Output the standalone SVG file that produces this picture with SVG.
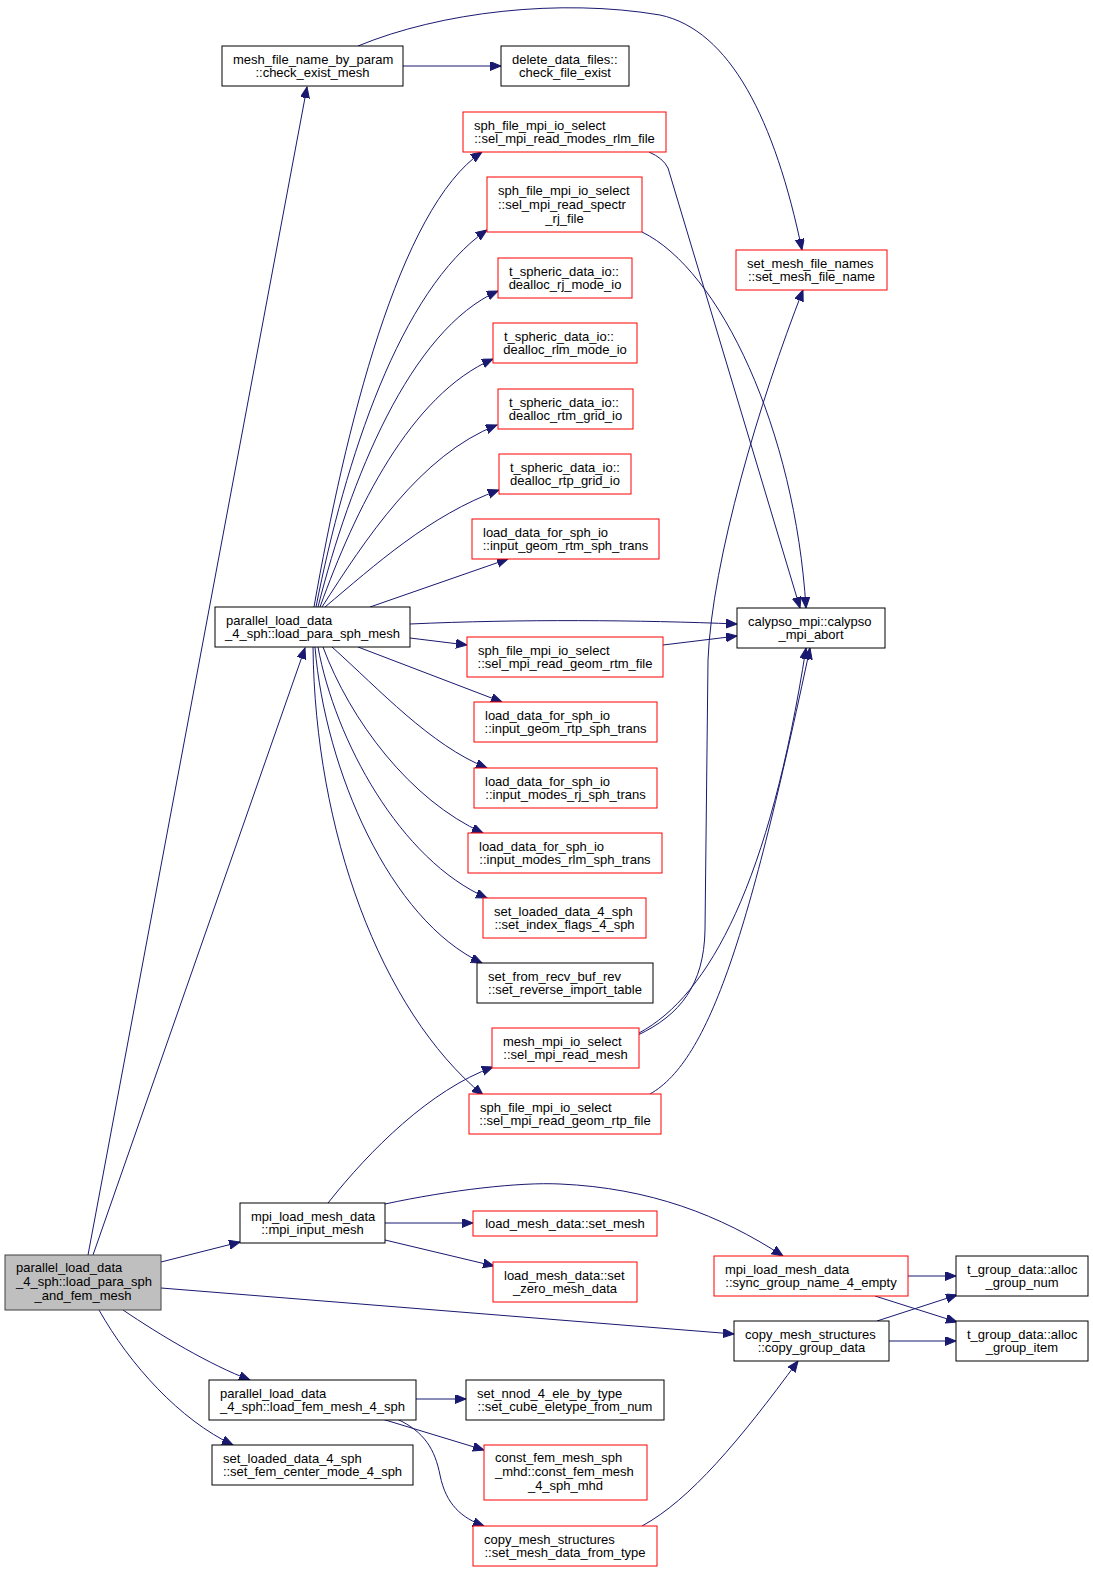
<svg xmlns="http://www.w3.org/2000/svg" width="1093" height="1572" viewBox="0 0 1093 1572">
<defs>
<marker id="a" markerWidth="12" markerHeight="10" refX="11" refY="4.5" orient="auto" markerUnits="userSpaceOnUse">
<path d="M0,0 L11,4.5 L0,9 z" fill="#191970" stroke="#191970" stroke-width="1"/>
</marker>
</defs>
<style>
.n rect{fill:#fff;stroke:#000;stroke-width:1}
.n.r rect{stroke:#ff0000}
.n.root rect{fill:#bfbfbf;stroke:#404040}
text{font-family:"Liberation Sans",Arial,Helvetica,sans-serif;font-size:13px;fill:#000}
.c{text-anchor:middle}
#edges path{fill:none;stroke:#191970;stroke-width:1;marker-end:url(#a)}
</style>
<rect x="0" y="0" width="1093" height="1572" fill="#fff"/>
<g id="edges">
<path d="M88,1255 L307,87"/>
<path d="M93,1255 L305,648"/>
<path d="M161,1262 L240,1242"/>
<path d="M161,1288 L734,1334"/>
<path d="M123,1310 C160,1335 210,1365 250,1380"/>
<path d="M99,1310 C130,1365 180,1420 233,1445"/>
<path d="M403,66 L501,66"/>
<path d="M358,46 C440,12 560,-2 660,15 C730,30 775,120 802,250"/>
<path d="M314,607 C345,430 399,208 482,152"/>
<path d="M316,607 C345,460 400,290 487,230"/>
<path d="M318,607 C350,480 410,330 498,291"/>
<path d="M320,607 C355,510 410,395 493,359"/>
<path d="M322,607 C365,540 420,455 497,425"/>
<path d="M325,607 C375,565 430,515 499,490"/>
<path d="M370,607 L508,559"/>
<path d="M410,624 C520,619 640,620 737,624"/>
<path d="M410,638 L467,645"/>
<path d="M358,647 L502,702"/>
<path d="M332,647 C380,690 430,745 487,768"/>
<path d="M323,647 C350,720 410,800 483,833"/>
<path d="M318,647 C335,740 400,860 487,898"/>
<path d="M315,647 C325,770 390,920 482,963"/>
<path d="M313,647 C315,830 380,1010 483,1095"/>
<path d="M663,645 L737,636"/>
<path d="M649,152 Q663,158 668,168 L800,608"/>
<path d="M642,232 C720,270 795,430 806,608"/>
<path d="M638,1035 C680,1015 704,985 705,930 L708,660 C712,560 760,400 803,290"/>
<path d="M639,1033 C710,995 770,880 806,648"/>
<path d="M650,1094 C710,1060 750,930 810,648"/>
<path d="M328,1203 C370,1150 430,1090 493,1067"/>
<path d="M385,1223 L473,1223"/>
<path d="M385,1240 L494,1266"/>
<path d="M385,1204 C450,1190 520,1182 560,1184 C650,1188 720,1215 783,1256"/>
<path d="M908,1276 L956,1276"/>
<path d="M875,1296 L957,1322"/>
<path d="M877,1321 L957,1295"/>
<path d="M889,1341 L956,1341"/>
<path d="M416,1399 L466,1399"/>
<path d="M382,1419 L484,1450"/>
<path d="M397,1419 C425,1432 435,1450 440,1475 C446,1505 462,1518 484,1526"/>
<path d="M642,1526 C690,1500 740,1440 798,1361"/>
</g>
<g id="n_check_exist_mesh" class="n"><rect x="222" y="46" width="181" height="40"/><text x="233" y="63.5">mesh_file_name_by_param</text><text class="c" x="312.5" y="77">::check_exist_mesh</text></g>
<g id="n_check_file_exist" class="n"><rect x="501" y="46" width="128" height="40"/><text x="512" y="63.5">delete_data_files::</text><text class="c" x="565" y="77">check_file_exist</text></g>
<g id="n_modes_rlm_file" class="n r"><rect x="463" y="112" width="203" height="40"/><text x="474" y="129.5">sph_file_mpi_io_select</text><text class="c" x="564.5" y="143">::sel_mpi_read_modes_rlm_file</text></g>
<g id="n_spectr_rj_file" class="n r"><rect x="487" y="177" width="155" height="55"/><text x="498" y="194.5">sph_file_mpi_io_select</text><text x="498" y="208.5">::sel_mpi_read_spectr</text><text class="c" x="564.5" y="222.5">_rj_file</text></g>
<g id="n_dealloc_rj_mode_io" class="n r"><rect x="498" y="258" width="134" height="40"/><text x="509" y="275.5">t_spheric_data_io::</text><text class="c" x="565" y="289">dealloc_rj_mode_io</text></g>
<g id="n_dealloc_rlm_mode_io" class="n r"><rect x="493" y="323" width="144" height="40"/><text x="504" y="340.5">t_spheric_data_io::</text><text class="c" x="565" y="354">dealloc_rlm_mode_io</text></g>
<g id="n_dealloc_rtm_grid_io" class="n r"><rect x="498" y="389" width="135" height="40"/><text x="509" y="406.5">t_spheric_data_io::</text><text class="c" x="565.5" y="420">dealloc_rtm_grid_io</text></g>
<g id="n_dealloc_rtp_grid_io" class="n r"><rect x="499" y="454" width="132" height="40"/><text x="510" y="471.5">t_spheric_data_io::</text><text class="c" x="565" y="485">dealloc_rtp_grid_io</text></g>
<g id="n_input_geom_rtm" class="n r"><rect x="472" y="519" width="187" height="40"/><text x="483" y="536.5">load_data_for_sph_io</text><text class="c" x="565.5" y="550">::input_geom_rtm_sph_trans</text></g>
<g id="n_set_mesh_file_name" class="n r"><rect x="736" y="250" width="151" height="40"/><text x="747" y="267.5">set_mesh_file_names</text><text class="c" x="811.5" y="281">::set_mesh_file_name</text></g>
<g id="n_calypso_mpi_abort" class="n"><rect x="737" y="608" width="148" height="40"/><text x="748" y="625.5">calypso_mpi::calypso</text><text class="c" x="811" y="639">_mpi_abort</text></g>
<g id="n_load_para_sph_mesh" class="n"><rect x="215" y="607" width="195" height="40"/><text x="226" y="624.5">parallel_load_data</text><text class="c" x="312.5" y="638">_4_sph::load_para_sph_mesh</text></g>
<g id="n_geom_rtm_file" class="n r"><rect x="467" y="637" width="196" height="40"/><text x="478" y="654.5">sph_file_mpi_io_select</text><text class="c" x="565" y="668">::sel_mpi_read_geom_rtm_file</text></g>
<g id="n_input_geom_rtp" class="n r"><rect x="474" y="702" width="183" height="40"/><text x="485" y="719.5">load_data_for_sph_io</text><text class="c" x="565.5" y="733">::input_geom_rtp_sph_trans</text></g>
<g id="n_input_modes_rj" class="n r"><rect x="474" y="768" width="183" height="40"/><text x="485" y="785.5">load_data_for_sph_io</text><text class="c" x="565.5" y="799">::input_modes_rj_sph_trans</text></g>
<g id="n_input_modes_rlm" class="n r"><rect x="468" y="833" width="194" height="40"/><text x="479" y="850.5">load_data_for_sph_io</text><text class="c" x="565" y="864">::input_modes_rlm_sph_trans</text></g>
<g id="n_set_index_flags" class="n r"><rect x="483" y="898" width="163" height="40"/><text x="494" y="915.5">set_loaded_data_4_sph</text><text class="c" x="564.5" y="929">::set_index_flags_4_sph</text></g>
<g id="n_set_reverse_import" class="n"><rect x="477" y="963" width="176" height="40"/><text x="488" y="980.5">set_from_recv_buf_rev</text><text class="c" x="565" y="994">::set_reverse_import_table</text></g>
<g id="n_sel_mpi_read_mesh" class="n r"><rect x="492" y="1028" width="147" height="40"/><text x="503" y="1045.5">mesh_mpi_io_select</text><text class="c" x="565.5" y="1059">::sel_mpi_read_mesh</text></g>
<g id="n_geom_rtp_file" class="n r"><rect x="469" y="1094" width="192" height="40"/><text x="480" y="1111.5">sph_file_mpi_io_select</text><text class="c" x="565" y="1125">::sel_mpi_read_geom_rtp_file</text></g>
<g id="n_mpi_input_mesh" class="n"><rect x="240" y="1203" width="145" height="40"/><text x="251" y="1220.5">mpi_load_mesh_data</text><text class="c" x="312.5" y="1234">::mpi_input_mesh</text></g>
<g id="n_root" class="n root"><rect x="5" y="1255" width="156" height="55"/><text x="16" y="1272">parallel_load_data</text><text x="16" y="1286">_4_sph::load_para_sph</text><text class="c" x="83" y="1300">_and_fem_mesh</text></g>
<g id="n_load_fem_mesh" class="n"><rect x="209" y="1380" width="207" height="40"/><text x="220" y="1397.5">parallel_load_data</text><text class="c" x="312.5" y="1411">_4_sph::load_fem_mesh_4_sph</text></g>
<g id="n_fem_center_mode" class="n"><rect x="212" y="1445" width="201" height="40"/><text x="223" y="1462.5">set_loaded_data_4_sph</text><text class="c" x="312.5" y="1476">::set_fem_center_mode_4_sph</text></g>
<g id="n_set_mesh" class="n r"><rect x="473" y="1211" width="184" height="25"/><text class="c" x="565" y="1228">load_mesh_data::set_mesh</text></g>
<g id="n_set_zero_mesh_data" class="n r"><rect x="493" y="1262" width="144" height="40"/><text x="504" y="1279.5">load_mesh_data::set</text><text class="c" x="565" y="1293">_zero_mesh_data</text></g>
<g id="n_sync_group_name" class="n r"><rect x="714" y="1256" width="194" height="40"/><text x="725" y="1273.5">mpi_load_mesh_data</text><text class="c" x="811" y="1287">::sync_group_name_4_empty</text></g>
<g id="n_alloc_group_num" class="n"><rect x="956" y="1256" width="132" height="40"/><text x="967" y="1273.5">t_group_data::alloc</text><text class="c" x="1022" y="1287">_group_num</text></g>
<g id="n_alloc_group_item" class="n"><rect x="956" y="1321" width="132" height="40"/><text x="967" y="1338.5">t_group_data::alloc</text><text class="c" x="1022" y="1352">_group_item</text></g>
<g id="n_copy_group_data" class="n"><rect x="734" y="1321" width="155" height="40"/><text x="745" y="1338.5">copy_mesh_structures</text><text class="c" x="811.5" y="1352">::copy_group_data</text></g>
<g id="n_set_cube_eletype" class="n"><rect x="466" y="1380" width="198" height="40"/><text x="477" y="1397.5">set_nnod_4_ele_by_type</text><text class="c" x="565" y="1411">::set_cube_eletype_from_num</text></g>
<g id="n_const_fem_mesh" class="n r"><rect x="484" y="1445" width="163" height="55"/><text x="495" y="1462">const_fem_mesh_sph</text><text x="495" y="1476">_mhd::const_fem_mesh</text><text class="c" x="565.5" y="1490">_4_sph_mhd</text></g>
<g id="n_set_mesh_data_from_type" class="n r"><rect x="473" y="1526" width="184" height="40"/><text x="484" y="1543.5">copy_mesh_structures</text><text class="c" x="565" y="1557">::set_mesh_data_from_type</text></g>
</svg>
